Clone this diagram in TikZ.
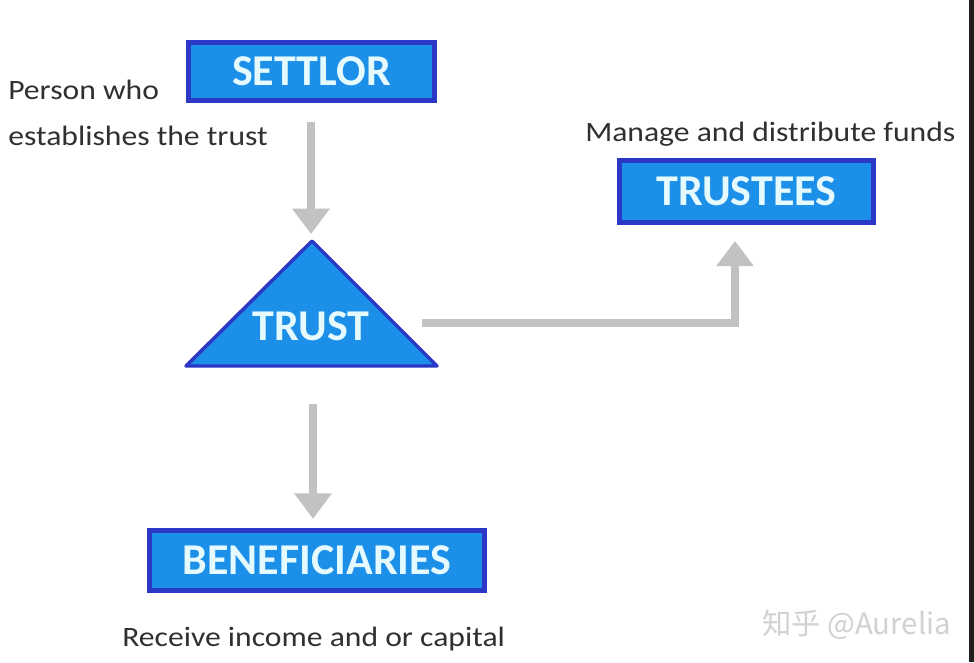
\documentclass[tikz,border=0pt]{standalone}
\usepackage{fontspec}
\setmainfont{Carlito}
\newfontfamily\notefont[FakeStretch=1.13]{Carlito}
\newfontfamily\cjkfont{Noto Sans CJK SC}
\usetikzlibrary{arrows.meta}
\definecolor{boxfill}{HTML}{1C8FE8}
\definecolor{boxedge}{HTML}{2B38C6}
\definecolor{boxtext}{HTML}{E4FAFF}
\definecolor{arrowgray}{HTML}{C2C2C2}
\definecolor{labeltext}{HTML}{303030}
\tikzset{
  rolebox/.style={draw=boxedge, fill=boxfill, line width=3.6pt, inner sep=0pt,
    text=boxtext, font=\bfseries\fontsize{33}{33}\selectfont},
  note/.style={text=labeltext, font=\notefont\fontsize{21}{34}\selectfont, inner sep=0pt},
  flow/.style={draw=arrowgray, line width=6pt,
    -{Triangle[width=27pt,length=19pt]}}
}
\begin{document}
\begin{tikzpicture}[x=0.75pt,y=-0.75pt]
\useasboundingbox (0,0) rectangle (974,662);
\fill[white] (0,0) rectangle (974,662);
\fill[black!88] (969,0) rectangle (974,662);

% boxes
\node[rolebox, minimum width=184.5pt, minimum height=43.5pt] (settlor) at (311.5,71.5) {SETTLOR};
\node[rolebox, minimum width=190pt, minimum height=46.5pt] (trustees) at (746.5,191.5) {TRUSTEES};
\node[rolebox, minimum width=251pt, minimum height=45pt] (benef) at (317,560.5) {BENEFICIARIES};

% triangle
\draw[boxedge, fill=boxfill, line width=2.6pt, line join=round]
  (312,241) -- (437,366) -- (186,366) -- cycle;
\node[text=boxtext, font=\bfseries\fontsize{33}{33}\selectfont, inner sep=0pt] (trust) at (311,326) {TRUST};
\coordinate (apex) at (311,234);
\coordinate (trustright) at (422,323);
\coordinate (trustbottom) at (313,404);

% labels
\node[note, align=left, anchor=base west] (settlornote) at (8,145) {Person who\\establishes the trust};
\node[note, anchor=base west] (trusteesnote) at (585,141) {Manage and distribute funds};
\node[note, anchor=base west] (benefnote) at (122,646) {Receive income and or capital};

% watermark
\node[text=black!18, font=\cjkfont\fontsize{22}{22}\selectfont, inner sep=0pt, anchor=base west] (mark) at (762,634) {知乎 @Aurelia};

% connectors
\draw[flow] ([yshift=-14pt]settlor.south -| apex) -- (apex);
\draw[flow] (trustbottom) -- ([yshift=7pt]benef.north -| trustbottom);
\draw[flow] (trustright) -| ([yshift=-12pt]trustees.south -| 735,0);
\end{tikzpicture}
\end{document}
